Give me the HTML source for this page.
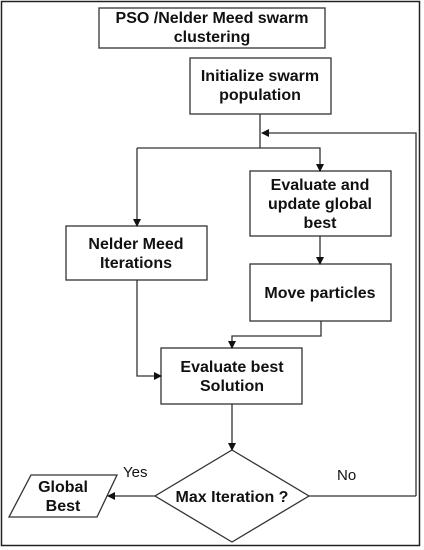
<!DOCTYPE html>
<html><head><style>
html,body{margin:0;padding:0;background:#fff}
svg{display:block}
text{font-family:"Liberation Sans",Arial,sans-serif;font-weight:bold;font-size:16px;fill:#111}
</style></head><body>
<svg width="424" height="550" viewBox="0 0 424 550">
<defs><marker id="a" markerWidth="8" markerHeight="8" refX="7" refY="4" orient="auto" markerUnits="userSpaceOnUse"><path d="M0,0 L8,4 L0,8z" fill="#111"/></marker></defs>
<rect x="1.5" y="1.5" width="418" height="544" fill="none" stroke="#222" stroke-width="1.5"/>
<g fill="#fff" stroke="#333" stroke-width="1.3">
<rect x="99" y="8" width="226" height="40"/>
<rect x="190" y="58" width="141" height="56"/>
<rect x="250" y="171" width="141" height="65"/>
<rect x="66" y="226" width="141" height="54"/>
<rect x="250" y="264" width="141" height="57"/>
<rect x="161" y="348" width="141" height="56"/>
<polygon points="232,450 309,496 232,542 155,496"/>
<polygon points="31,475 117,475 97,517 9,517"/>
</g>
<g fill="none" stroke="#333" stroke-width="1.3">
<path d="M260,114 V148"/>
<path d="M416,496 V133 H262" marker-end="url(#a)"/>
<path d="M137,148 H320 V171" marker-end="url(#a)"/>
<path d="M137,148 V226" marker-end="url(#a)"/>
<path d="M320,236 V264" marker-end="url(#a)"/>
<path d="M321,321 V336 H232 V348" marker-end="url(#a)"/>
<path d="M137,280 V376 H161" marker-end="url(#a)"/>
<path d="M232,404 V450" marker-end="url(#a)"/>
<path d="M309,496 H416"/>
<path d="M155,496 H108" marker-end="url(#a)"/>
</g>
<g text-anchor="middle">
<text x="212" y="23">PSO /Nelder Meed swarm</text>
<text x="212" y="42">clustering</text>
<text x="260" y="81">Initialize swarm</text>
<text x="260" y="100">population</text>
<text x="320" y="190">Evaluate and</text>
<text x="320" y="209">update global</text>
<text x="320" y="228">best</text>
<text x="136" y="249">Nelder Meed</text>
<text x="136" y="268">Iterations</text>
<text x="320" y="298">Move particles</text>
<text x="232" y="372">Evaluate best</text>
<text x="232" y="391">Solution</text>
<text x="232" y="502">Max Iteration ?</text>
<text x="63" y="492">Global</text>
<text x="63" y="511">Best</text>
</g>
<text x="123" y="477" style="font-weight:normal;font-size:15px">Yes</text>
<text x="337" y="480" style="font-weight:normal;font-size:15px">No</text>
</svg>
</body></html>
